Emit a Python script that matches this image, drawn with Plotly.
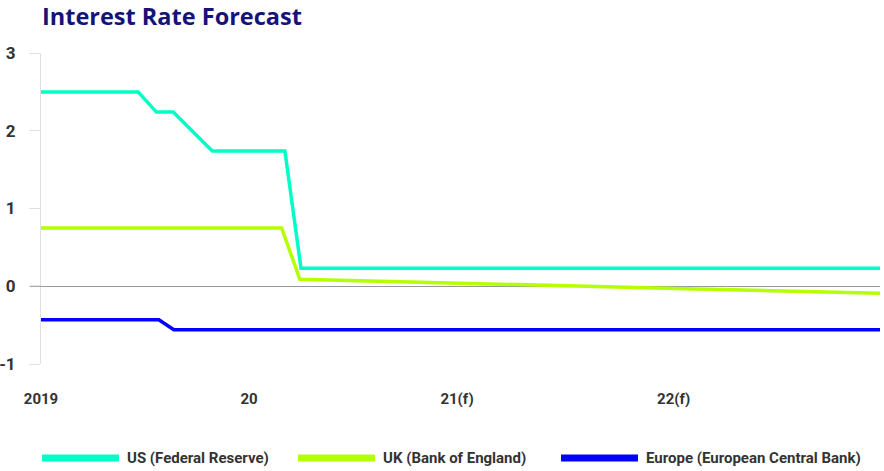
import plotly.graph_objects as go

# Months since January 2019 and policy rates (%)
us_months = [0, 5.6, 6.66, 7.63, 9.88, 14.07, 15.0, 48.4]
us_rates = [2.5, 2.5, 2.24, 2.24, 1.74, 1.74, 0.23, 0.23]

uk_months = [0, 13.88, 14.93, 24, 36, 48.4]
uk_rates = [0.75, 0.75, 0.09, 0.045, -0.025, -0.09]

eu_months = [0, 6.8, 7.66, 48.4]
eu_rates = [-0.43, -0.43, -0.56, -0.56]

tick_positions = [0, 12, 24, 36.5]
tick_labels = ["2019", "20", "21(f)", "22(f)"]
y_ticks = [-1, 0, 1, 2, 3]
y_tick_labels = ["-1", "0", "1", "2", "3"]

series_names = ["US (Federal Reserve)", "UK (Bank of England)", "Europe (European Central Bank)"]
series_colors = ["#00FFC6", "#B4FF00", "#0000FF"]

W, H = 884, 471
L, R, T, B = 41, 4, 53, 107
plot_w = W - L - R
plot_h = H - T - B

cond = dict(family="Roboto, Liberation Sans, sans-serif", weight="bold", color="#333333")

fig = go.Figure()
for xs, ys, name, color in zip([us_months, uk_months, eu_months],
                               [us_rates, uk_rates, eu_rates],
                               series_names, series_colors):
    fig.add_trace(go.Scatter(x=xs, y=ys, mode="lines", name=name,
                             line=dict(color=color, width=3.5),
                             hoverinfo="skip", showlegend=False))

# Custom legend: long thick swatches below the plot
legend_swatch_x = [42, 298, 561]
swatch_len = 77
legend_y_px = 458
py = (T + plot_h - legend_y_px) / plot_h
for x0, name, color in zip(legend_swatch_x, series_names, series_colors):
    fig.add_shape(type="line", xref="paper", yref="paper",
                  x0=(x0 - L) / plot_w, x1=(x0 + swatch_len - L) / plot_w,
                  y0=py, y1=py, line=dict(color=color, width=7))
    fig.add_annotation(xref="paper", yref="paper", x=(x0 + swatch_len + 6 - L) / plot_w,
                       y=py, text=name, showarrow=False, xanchor="left", yanchor="middle",
                       font=dict(size=15, **cond))

# Zero tick in the same grey as the zero line
fig.add_shape(type="line", xref="paper", yref="y", x0=-11 / plot_w, x1=0, y0=0, y1=0,
              line=dict(color="#999999", width=1))

fig.update_layout(
    width=W, height=H,
    margin=dict(l=L, r=R, t=T, b=B, autoexpand=False),
    paper_bgcolor="white", plot_bgcolor="white",
    title=dict(text="<b>Interest Rate Forecast</b>", xref="container", yref="container",
               x=42 / W, xanchor="left", y=1 - 17 / H, yanchor="middle",
               font=dict(family="Open Sans, Noto Sans, sans-serif", size=23.5, color="#13137A")),
    xaxis=dict(range=[0, 48.4], showgrid=False, zeroline=False, showline=False,
               automargin=False,
               tickmode="array", tickvals=tick_positions, ticktext=tick_labels,
               ticks="", ticklabelstandoff=24, tickfont=dict(size=15, **cond)),
    yaxis=dict(range=[-1, 3], showgrid=False, zeroline=True, zerolinecolor="#999999",
               zerolinewidth=1, showline=True, linecolor="#E0E0E0", linewidth=1,
               automargin=False,
               ticks="outside", ticklen=11, tickcolor="#E0E0E0", tickwidth=1,
               tickmode="array", tickvals=y_ticks, ticktext=y_tick_labels,
               ticklabelstandoff=10, tickfont=dict(size=17, **cond)),
)

fig.write_html("out.html")
